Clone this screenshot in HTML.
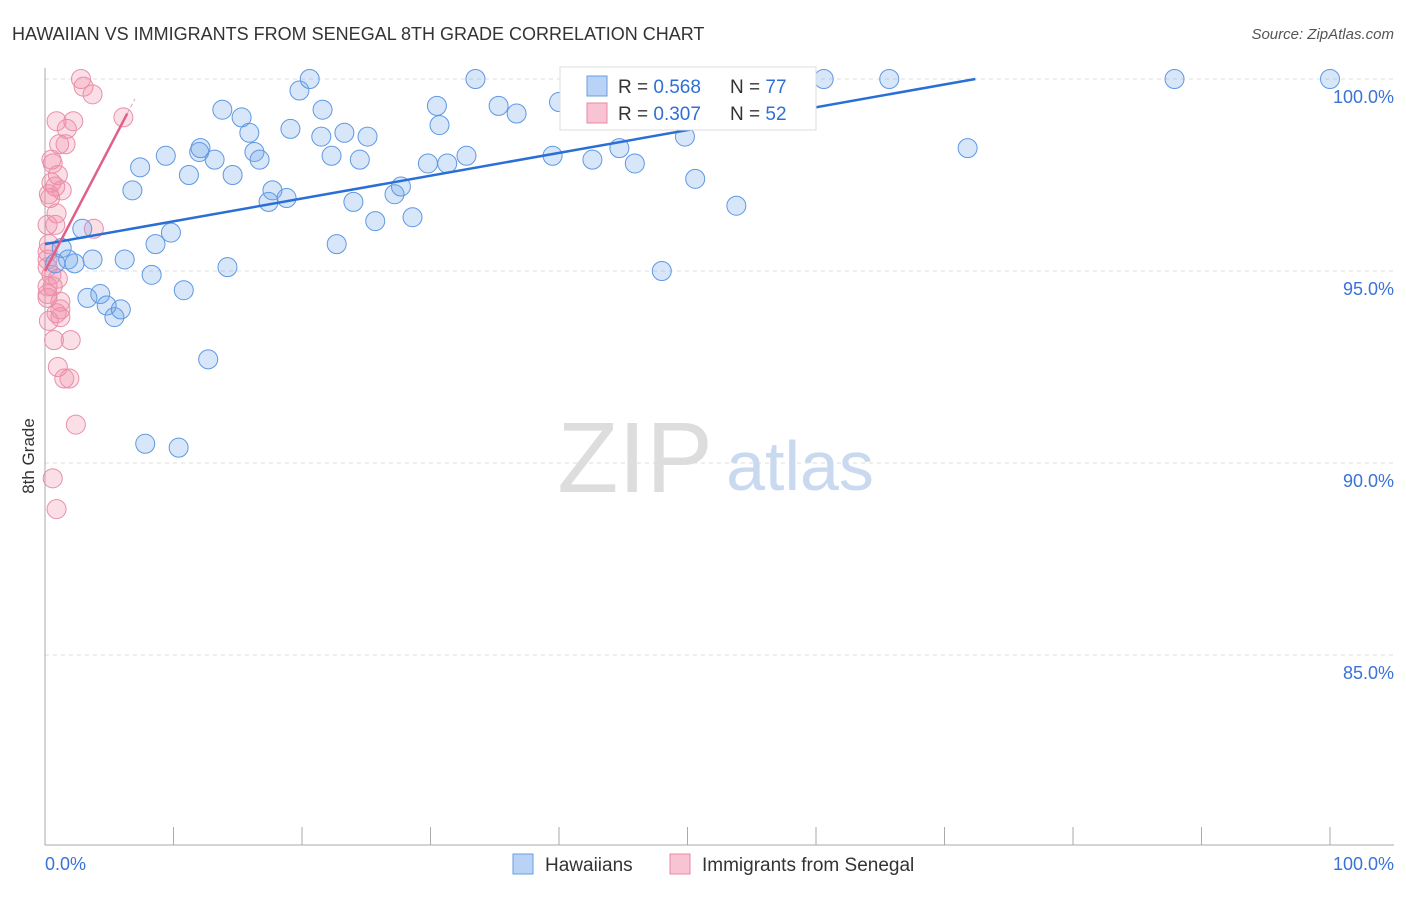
<!DOCTYPE html>
<html><head><meta charset="utf-8"><style>
body{margin:0;background:#fff;font-family:"Liberation Sans",sans-serif}
svg text{font-family:"Liberation Sans",sans-serif}
</style></head><body>
<svg id="c" width="1406" height="892" xmlns="http://www.w3.org/2000/svg">
<text x="12" y="40" font-size="18" fill="#333">HAWAIIAN VS IMMIGRANTS FROM SENEGAL 8TH GRADE CORRELATION CHART</text>
<text x="1394" y="39" font-size="15" fill="#555" text-anchor="end" font-style="italic">Source: ZipAtlas.com</text>
<text x="34" y="456" font-size="17" fill="#333" transform="rotate(-90 34 456)" text-anchor="middle">8th Grade</text>
<g id="grid"></g>
<text x="635" y="492" font-size="100" fill="#ddd" font-family="Liberation Serif" text-anchor="middle">ZIP</text>
<text x="800" y="490" font-size="70" fill="#c9d9f0" text-anchor="middle">atlas</text>
<g id="pts"></g>
<g id="lines"></g>
<g>
<rect x="560" y="67" width="256" height="63" fill="#fff" stroke="#ddd"/>
<rect x="587" y="76" width="20" height="20" fill="#b8d3f5" stroke="#6a9ee0"/>
<text x="618" y="93" font-size="19" fill="#333">R = <tspan fill="#2f6fd6">0.568</tspan></text>
<text x="730" y="93" font-size="19" fill="#333">N = <tspan fill="#2f6fd6">77</tspan></text>
<rect x="587" y="103" width="20" height="20" fill="#f8c4d3" stroke="#e88aa6"/>
<text x="618" y="120" font-size="19" fill="#333">R = <tspan fill="#2f6fd6">0.307</tspan></text>
<text x="730" y="120" font-size="19" fill="#333">N = <tspan fill="#2f6fd6">52</tspan></text>
</g>
<g>
<rect x="513" y="854" width="20" height="20" fill="#b8d3f5" stroke="#6a9ee0"/>
<text x="545" y="871" font-size="19" fill="#333">Hawaiians</text>
<rect x="670" y="854" width="20" height="20" fill="#f8c4d3" stroke="#e88aa6"/>
<text x="702" y="871" font-size="19" fill="#333">Immigrants from Senegal</text>
</g>
<text x="45" y="870" font-size="18" fill="#3a72d8">0.0%</text>
<text x="1394" y="870" font-size="18" fill="#3a72d8" text-anchor="end">100.0%</text>
</svg>
<script>
const yTicks=[100,95,90,85];
const blueX=[1.3,0.8,1.8,2.3,2.9,3.7,3.3,4.3,4.8,5.4,5.9,6.2,6.8,7.4,7.8,8.3,8.6,9.4,9.8,10.4,10.8,11.2,12,12.1,12.7,13.2,13.8,14.2,14.6,15.3,15.9,16.3,16.7,17.4,17.7,18.8,19.1,19.8,20.6,21.5,21.6,22.3,22.7,23.3,24,24.5,25.1,25.7,27.2,27.7,28.6,29.8,30.5,30.7,31.3,32.8,33.5,35.3,36.7,39.5,40,42.6,44.6,44.7,45.9,48,49.8,50.6,53.8,60.6,65.7,71.8,87.9,100];
const blueY=[95.6,95.2,95.3,95.2,96.1,95.3,94.3,94.4,94.1,93.8,94,95.3,97.1,97.7,90.5,94.9,95.7,98.0,96.0,90.4,94.5,97.5,98.1,98.2,92.7,97.9,99.2,95.1,97.5,99.0,98.6,98.1,97.9,96.8,97.1,96.9,98.7,99.7,100,98.5,99.2,98.0,95.7,98.6,96.8,97.9,98.5,96.3,97,97.2,96.4,97.8,99.3,98.8,97.8,98.0,100,99.3,99.1,98.0,99.4,97.9,100,98.2,97.8,95.0,98.5,97.4,96.7,100,100,98.2,100,100];
const pinkX=[2.8,3,3.7,6.1,0.9,2.2,1.7,1.1,1.6,0.5,0.6,1,0.5,0.8,1.3,0.3,0.9,0.2,0.8,3.8,0.3,0.2,0.2,0.5,1,0.2,0.6,0.2,1.2,0.9,0.3,1.2,0.7,2,1,1.9,1.5,2.4,0.6,0.9,0.2,0.4,1.2,0.2];
const pinkY=[100,99.8,99.6,99,98.9,98.9,98.7,98.3,98.3,97.9,97.8,97.5,97.3,97.2,97.1,97,96.5,96.2,96.2,96.1,95.7,95.3,95.1,94.9,94.8,94.6,94.6,94.3,94.2,93.9,93.7,93.8,93.2,93.2,92.5,92.2,92.2,91,89.6,88.8,95.5,96.9,94,94.4];
const blueLine=[[0,95.7],[72.4,100]];
const pinkLine=[[0,95.0],[6.4,99.1]];
const X=v=>45+v*12.85, Y=v=>79+(100-v)*38.4;
const NS="http://www.w3.org/2000/svg";
const mk=(t,a,p)=>{const e=document.createElementNS(NS,t);for(const k in a)e.setAttribute(k,a[k]);p.appendChild(e);return e;};
const g=document.getElementById('grid');
yTicks.forEach(t=>{
 const l=mk('line',{x1:45,x2:1394,y1:Y(t),y2:Y(t),stroke:'#ddd','stroke-dasharray':'4,4'},g);
 
 
 const tx=mk('text',{x:1394,y:Y(t)+24,'font-size':18,fill:'#3a72d8','text-anchor':'end'},g);
 tx.textContent=t.toFixed(1)+'%';
 
 
});
mk('line',{x1:45,x2:45,y1:68,y2:845,stroke:'#aaa'},g);
mk('line',{x1:45,x2:1394,y1:845,y2:845,stroke:'#aaa'},g);
for(let i=0;i<=10;i++){mk('line',{x1:X(i*10),x2:X(i*10),y1:827,y2:845,stroke:'#aaa'},g);}
const p=document.getElementById('pts');
pinkX.forEach((x,i)=>{const c=mk('circle',{cx:X(x),cy:Y(pinkY[i]),r:9.5,fill:'rgba(242,140,170,0.28)',stroke:'#e98fab','stroke-width':1},p);
 
 });
blueX.forEach((x,i)=>{const c=mk('circle',{cx:X(x),cy:Y(blueY[i]),r:9.5,fill:'rgba(110,165,235,0.28)',stroke:'#5f98e2','stroke-width':1},p);
 
 });
const L=document.getElementById('lines');
const bl=mk('line',{x1:X(blueLine[0][0]),y1:Y(blueLine[0][1]),x2:X(blueLine[1][0]),y2:Y(blueLine[1][1]),stroke:'#2a6fd6','stroke-width':2.5},L);


const pl=mk('line',{x1:X(pinkLine[0][0]),y1:Y(pinkLine[0][1]),x2:X(pinkLine[1][0]),y2:Y(pinkLine[1][1]),stroke:'#e0608a','stroke-width':2.5},L);


const s=(pinkLine[1][1]-pinkLine[0][1])/(pinkLine[1][0]-pinkLine[0][0]);
mk('line',{x1:X(pinkLine[1][0]),y1:Y(pinkLine[1][1]),x2:X(7),y2:Y(pinkLine[1][1]+s*(7-pinkLine[1][0])),stroke:'#e0a0b5','stroke-width':1,'stroke-dasharray':'4,3'},L);
</script>
</body></html>
